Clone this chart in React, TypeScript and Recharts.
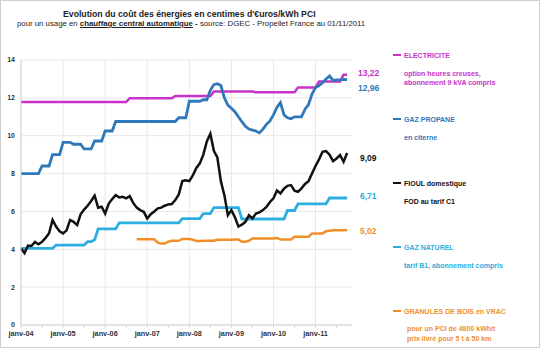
import { LineChart, Line, XAxis, YAxis, CartesianGrid } from "recharts";

// monthly values, janv-04 .. oct-11 (c€/kWh PCI)
const ELECTRICITE = [
  11.78, 11.78, 11.78, 11.78, 11.78, 11.78, 11.78, 11.78, 11.78, 11.78, 11.78, 11.78,
  11.78, 11.78, 11.78, 11.78, 11.78, 11.78, 11.78, 11.78, 11.78, 11.78, 11.78, 11.78,
  11.78, 11.78, 11.78, 11.78, 11.78, 11.78, 11.78, 11.98, 11.98, 11.98, 11.98, 11.98,
  11.98, 11.98, 11.98, 11.98, 11.98, 11.98, 11.98, 11.98, 12.1, 12.1, 12.1, 12.1,
  12.1, 12.1, 12.1, 12.1, 12.1, 12.1, 12.1, 12.33, 12.33, 12.33, 12.33, 12.33,
  12.33, 12.33, 12.33, 12.33, 12.33, 12.33, 12.33, 12.3, 12.3, 12.3, 12.3, 12.3,
  12.3, 12.3, 12.3, 12.3, 12.3, 12.3, 12.3, 12.55, 12.55, 12.55, 12.55, 12.55,
  12.55, 12.86, 12.86, 12.86, 12.86, 12.86, 12.86, 12.86, 13.22, 13.22,
];

const GAZ_PROPANE = [
  8.0, 8.0, 8.0, 8.0, 8.0, 8.0, 8.4, 8.4, 8.4, 9.0, 9.0, 9.0,
  9.65, 9.65, 9.65, 9.55, 9.55, 9.55, 9.3, 9.3, 9.3, 9.72, 9.72, 9.72,
  10.25, 10.25, 10.25, 10.75, 10.75, 10.75, 10.75, 10.75, 10.75, 10.75, 10.75, 10.75,
  10.75, 10.75, 10.75, 10.75, 10.75, 10.75, 10.75, 10.75, 10.75, 10.95, 10.95, 10.95,
  11.82, 11.82, 11.82, 11.82, 11.9, 11.9, 12.4, 12.7, 12.75, 12.65, 12.0, 11.62,
  11.45, 11.27, 11.0, 10.74, 10.5, 10.35, 10.3, 10.25, 10.15, 10.35, 10.6, 10.78,
  11.1, 11.5, 11.75, 11.1, 10.95, 10.9, 11.0, 11.0, 11.0, 11.4, 11.65, 12.2,
  12.55, 12.65, 12.8, 13.0, 13.15, 12.92, 12.95, 12.95, 12.98, 12.96,
];

const FIOUL = [
  4.04, 3.8, 4.2, 4.18, 4.39, 4.27, 4.39, 4.6, 4.85, 5.55, 5.2, 4.95,
  4.84, 5.0, 5.55, 5.45, 5.28, 5.85, 6.1, 6.3, 6.55, 6.83, 6.2, 6.25,
  5.89, 6.4, 6.65, 6.86, 6.74, 6.77, 6.69, 6.81, 6.45, 6.2, 6.07, 5.98,
  5.63, 5.85, 6.0, 6.16, 6.2, 6.3, 6.37, 6.39, 6.6, 6.9, 7.6, 7.64,
  7.6, 7.9, 8.3, 8.54, 9.0, 9.7, 10.1, 9.2, 8.85, 7.6, 6.86, 5.8,
  6.07, 5.7, 5.2, 5.3, 5.45, 5.8, 5.63, 5.89, 5.95, 6.07, 6.24, 6.5,
  6.69, 7.1, 6.95, 7.2, 7.35, 7.39, 7.1, 7.04, 7.22, 7.45, 7.6, 8.0,
  8.4, 8.75, 9.15, 9.19, 9.0, 8.66, 8.8, 8.98, 8.62, 9.09,
];

const GAZ_NATUREL = [
  4.05, 4.05, 4.05, 4.05, 4.05, 4.05, 4.05, 4.05, 4.05, 4.05, 4.22, 4.22,
  4.22, 4.22, 4.22, 4.22, 4.22, 4.22, 4.22, 4.4, 4.4, 4.5, 5.08, 5.08,
  5.08, 5.08, 5.08, 5.08, 5.4, 5.4, 5.4, 5.4, 5.4, 5.4, 5.4, 5.4,
  5.4, 5.4, 5.4, 5.4, 5.4, 5.4, 5.4, 5.4, 5.4, 5.4, 5.62, 5.62,
  5.62, 5.62, 5.62, 5.62, 5.88, 5.88, 5.88, 6.2, 6.2, 6.2, 6.2, 6.2,
  6.2, 6.2, 6.2, 5.6, 5.6, 5.6, 5.6, 5.6, 5.6, 5.6, 5.6, 5.6,
  5.6, 5.6, 5.6, 5.6, 6.05, 6.05, 6.05, 6.4, 6.4, 6.4, 6.4, 6.4,
  6.4, 6.4, 6.4, 6.4, 6.71, 6.71, 6.71, 6.71, 6.71, 6.71,
];

const GRANULES = [
  null, null, null, null, null, null, null, null, null, null, null, null,
  null, null, null, null, null, null, null, null, null, null, null, null,
  null, null, null, null, null, null, null, null, null, 4.53, 4.53, 4.53,
  4.53, 4.53, 4.53, 4.35, 4.3, 4.3, 4.4, 4.45, 4.45, 4.45, 4.55, 4.55,
  4.55, 4.5, 4.44, 4.44, 4.45, 4.45, 4.45, 4.45, 4.5, 4.5, 4.5, 4.5,
  4.5, 4.52, 4.52, 4.4, 4.4, 4.45, 4.57, 4.57, 4.57, 4.57, 4.57, 4.57,
  4.57, 4.6, 4.52, 4.52, 4.52, 4.52, 4.66, 4.66, 4.66, 4.66, 4.66, 4.84,
  4.84, 4.84, 4.84, 4.95, 4.98, 5.0, 5.0, 5.0, 5.0, 5.02,
];

const YEAR_LABELS = ["janv-04", "janv-05", "janv-06", "janv-07", "janv-08", "janv-09", "janv-10", "janv-11"];
const Y_TICKS = [0, 2, 4, 6, 8, 10, 12, 14];

const C_ELEC = "#c832c8";
const C_PROP = "#2f78b9";
const C_FIOUL = "#111111";
const C_GAZ = "#2eaee0";
const C_GRAN = "#f0902a";

const data = FIOUL.map((_, i) => ({
  m: i,
  elec: ELECTRICITE[i],
  prop: GAZ_PROPANE[i],
  fioul: FIOUL[i],
  gaz: GAZ_NATUREL[i],
  gran: GRANULES[i],
}));

const halfYears = data.filter((d) => d.m % 6 === 0).map((d) => d.m);
const years = YEAR_LABELS.map((_, i) => i * 12);

const FONT = "'Liberation Sans', Arial, sans-serif";

function Txt({ x, y, color, size = 7, bold = true, children }: any) {
  return (
    <div
      style={{
        position: "absolute",
        left: x,
        top: y - 5,
        height: 10,
        lineHeight: "10px",
        fontSize: size,
        fontWeight: bold ? 700 : 400,
        color,
        whiteSpace: "nowrap",
      }}
    >
      {children}
    </div>
  );
}

function LegendHead({ y, color, children }: any) {
  return (
    <div style={{ position: "absolute", left: 393, top: y - 5, height: 10, display: "flex", alignItems: "center", gap: 3, fontSize: 7, fontWeight: 700, color, whiteSpace: "nowrap" }}>
      <span style={{ width: 8, height: 2, background: color, display: "inline-block" }} />
      <span>{children}</span>
    </div>
  );
}

export default function App() {
  return (
    <div style={{ position: "absolute", left: 0, top: 0, width: 540, height: 357, background: "#fff", fontFamily: FONT, overflow: "hidden" }}>
      <div style={{ position: "absolute", left: 0, top: 0, width: 540, height: 348, border: "1px solid #cfcfcf", boxSizing: "border-box" }} />
      <div style={{ position: "absolute", left: 0, top: 0 }}>
        <LineChart width={540} height={357} data={data} margin={{ top: 60, right: 188, bottom: 12, left: 1 }}>
          <CartesianGrid stroke="#e8e8e8" verticalValues={years} />
          <XAxis
            dataKey="m"
            type="number"
            domain={[0, 94.4]}
            ticks={halfYears}
            tickFormatter={(v: number) => (v % 12 === 0 ? YEAR_LABELS[v / 12] : "")}
            interval={0}
            height={20}
            stroke="#d4d4d4"
            tickSize={3}
            tickMargin={3}
            tick={{ fontSize: 7.3, fontWeight: 700, fill: "#333", fontFamily: FONT }}
          />
          <YAxis
            domain={[0, 14]}
            ticks={Y_TICKS}
            width={20}
            stroke="#d4d4d4"
            tickLine={false}
            tickSize={0}
            tickMargin={6}
            tick={{ fontSize: 7, fontWeight: 700, fill: "#333", fontFamily: FONT }}
          />
          <Line dataKey="elec" stroke={C_ELEC} strokeWidth={2.5} dot={false} isAnimationActive={false} />
          <Line dataKey="prop" stroke={C_PROP} strokeWidth={2.8} dot={false} isAnimationActive={false} />
          <Line dataKey="gaz" stroke={C_GAZ} strokeWidth={2.8} dot={false} isAnimationActive={false} />
          <Line dataKey="gran" stroke={C_GRAN} strokeWidth={2.5} dot={false} isAnimationActive={false} />
          <Line dataKey="fioul" stroke={C_FIOUL} strokeWidth={2.5} dot={false} isAnimationActive={false} />
        </LineChart>
      </div>

      <Txt x={63} y={14} size={8.7} color="#222">Evolution du coût des énergies en centimes d'€uros/kWh PCI</Txt>
      <Txt x={17} y={24} size={7.8} bold={false} color="#222">
        pour un usage en <b style={{ textDecoration: "underline" }}>chauffage central automatique</b> <b>-</b> source: DGEC - Propellet France au 01/11/2011
      </Txt>

      <Txt x={358} y={73} size={8.5} color={C_ELEC}>13,22</Txt>
      <Txt x={358} y={88} size={8.5} color={C_PROP}>12,96</Txt>
      <Txt x={360} y={158} size={8.5} color={C_FIOUL}>9,09</Txt>
      <Txt x={360} y={196} size={8.5} color={C_GAZ}>6,71</Txt>
      <Txt x={360} y={231} size={8.5} color={C_GRAN}>5,02</Txt>

      <LegendHead y={55} color={C_ELEC}>ELECTRICITE</LegendHead>
      <Txt x={404} y={74} color={C_ELEC}>option heures creuses,</Txt>
      <Txt x={404} y={83} color={C_ELEC}>abonnement 9 kVA compris</Txt>

      <LegendHead y={119} color={C_PROP}>GAZ PROPANE</LegendHead>
      <Txt x={404} y={138} color={C_PROP}>en citerne</Txt>

      <LegendHead y={183} color={C_FIOUL}>FIOUL domestique</LegendHead>
      <Txt x={404} y={202} color={C_FIOUL}>FOD au tarif C1</Txt>

      <LegendHead y={247} color={C_GAZ}>GAZ NATUREL</LegendHead>
      <Txt x={404} y={266} color={C_GAZ}>tarif B1, abonnement compris</Txt>

      <LegendHead y={311} color={C_GRAN}>GRANULES DE BOIS en VRAC</LegendHead>
      <Txt x={407} y={329} color={C_GRAN}>pour un PCI de 4800 kWh/t</Txt>
      <Txt x={407} y={339} color={C_GRAN}>prix livré pour 5 t à 50 km</Txt>
    </div>
  );
}
